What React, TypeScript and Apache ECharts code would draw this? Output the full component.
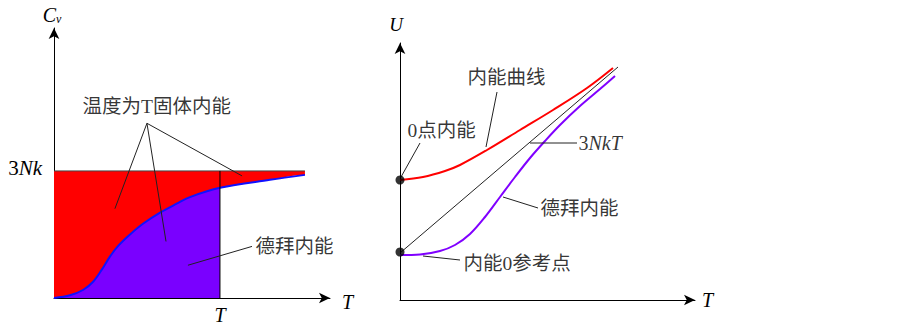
import React, { useEffect, useRef } from "react";
import * as echarts from "echarts";

// ---------- Left panel: Cv (in units of 3Nk) vs T (in units of the marked T) ----------
const cvCurve: number[][] = [
  [0, 0], [0.096, 0.021], [0.177, 0.065], [0.237, 0.13], [0.287, 0.221], [0.337, 0.326],
  [0.388, 0.412], [0.458, 0.5], [0.538, 0.586], [0.639, 0.672], [0.739, 0.742], [0.819, 0.794],
  [1.0, 0.867], [1.301, 0.93], [1.512, 0.969],
];
const classicalLevel = 1; // 3Nk
const markT = 1; // T
const curveEnd = 1.512;
const leftTickLabels = { y: "3Nk", x: "T" };

// ---------- Right panel: U vs T ----------
const internalEnergy: number[][] = [
  [0, 1.2], [0.23, 1.23], [0.45, 1.29], [0.6, 1.35], [0.87, 1.5], [1.2, 1.7], [1.53, 1.9],
  [1.87, 2.12], [2.13, 2.32],
];
const classicalLine: number[][] = [[0, 0.47], [2.18, 2.33]];
const debyeEnergy: number[][] = [
  [0, 0.45], [0.2, 0.455], [0.4, 0.49], [0.55, 0.55], [0.7, 0.66], [0.85, 0.83], [1.0, 1.03],
  [1.15, 1.23], [1.3, 1.42], [1.45, 1.59], [1.6, 1.75], [1.8, 1.94], [2.0, 2.11], [2.15, 2.24],
];
const zeroPoints: number[][] = [[0, 1.2], [0, 0.48]];

// ---------- Annotations (data coordinates) ----------
const leftNotes = [
  { text: "温度为T固体内能", at: [0.169, 1.508] },
  { text: "德拜内能", at: [1.211, 0.406] },
];
const leftLeaders: number[][][] = [
  [[0.56, 1.375], [0.367, 0.703]],
  [[0.56, 1.375], [0.675, 0.445]],
  [[0.56, 1.375], [1.133, 0.961]],
  [[1.193, 0.406], [0.807, 0.258]],
];
const rightNotes = [
  { text: "内能曲线", at: [0.67, 2.23] },
  { text: "0点内能", at: [0.07, 1.7] },
  { text: "{n|3}{i|NkT}", at: [1.78, 1.57] },
  { text: "德拜内能", at: [1.4, 0.92] },
  { text: "内能0参考点", at: [0.63, 0.37] },
];
const rightLeaders: number[][][] = [
  [[0.97, 2.08], [0.86, 1.53]],
  [[0.2, 1.57], [0.01, 1.23]],
  [[1.3, 1.57], [1.77, 1.57]],
  [[1.03, 1.03], [1.38, 0.92]],
  [[0.23, 0.44], [0.6, 0.4]],
];

const SERIF = "'Liberation Serif', 'Noto Sans CJK SC', serif";
const FS = 19.5;
const SMOOTH = 0.35;

export default function App() {
  const ref = useRef<HTMLDivElement>(null);
  useEffect(() => {
    document.body.style.margin = "0";
    const chart = echarts.init(ref.current!, null, { renderer: "svg" });

    const axisLine = () => ({
      show: true,
      lineStyle: { color: "#000", width: 1 },
      symbol: ["none", "arrow"],
      symbolSize: [8, 11],
    });
    const richT = {
      n: { fontFamily: SERIF, fontSize: 20, color: "#000" },
      i: { fontFamily: SERIF, fontSize: 20, fontStyle: "italic", color: "#000" },
    };

    const leaderSeries = (lines: number[][][], idx: number) =>
      lines.map((seg) => ({
        type: "line",
        xAxisIndex: idx,
        yAxisIndex: idx,
        data: seg,
        symbol: "none",
        lineStyle: { color: "#222", width: 1 },
        z: 5,
      }));
    const noteSeries = (notes: { text: string; at: number[] }[], idx: number) => ({
      type: "scatter",
      xAxisIndex: idx,
      yAxisIndex: idx,
      symbolSize: 1,
      itemStyle: { color: "rgba(0,0,0,0)" },
      data: notes.map((n) => ({ name: n.text, value: n.at })),
      label: {
        show: true,
        position: "right",
        distance: 0,
        formatter: (p: any) => p.name,
        fontFamily: SERIF,
        fontSize: FS,
        color: "#000",
        rich: richT,
      },
      z: 6,
    });

    const beforeT = cvCurve.filter((p) => p[0] <= markT);
    const afterT = cvCurve.filter((p) => p[0] >= markT);
    const last = afterT[afterT.length - 1];
    // white cover below the curve beyond T, reaching a hair past the red edge
    const coverAfterT = [...afterT, [last[0] + 0.012, last[1]]];

    chart.setOption({
      animation: false,
      grid: [
        { left: 54, top: 28, width: 276, height: 272 },
        { left: 400, top: 43, width: 295, height: 257 },
      ],
      xAxis: [
        {
          type: "value", gridIndex: 0, min: 0, max: 1.663, interval: 1,
          axisLine: axisLine(), axisTick: { show: false }, splitLine: { show: false },
          axisLabel: {
            margin: 7, showMaxLabel: false,
            formatter: (v: number) => (Math.abs(v - markT) < 1e-9 ? "{i|" + leftTickLabels.x + "}" : ""),
            rich: richT,
          },
          name: "{i|T}", nameLocation: "end", nameGap: 12,
          nameTextStyle: { rich: richT, padding: [8, 0, 0, 0] },
        },
        {
          type: "value", gridIndex: 1, min: 0, max: 2.95,
          axisLine: axisLine(), axisTick: { show: false }, splitLine: { show: false },
          axisLabel: { show: false },
          name: "{i|T}", nameLocation: "end", nameGap: 7,
          nameTextStyle: { rich: richT },
        },
      ],
      yAxis: [
        {
          type: "value", gridIndex: 0, min: 0, max: 2.125, interval: 1,
          axisLine: axisLine(), axisTick: { show: false }, splitLine: { show: false },
          axisLabel: {
            margin: 12, showMaxLabel: false,
            formatter: (v: number) => (Math.abs(v - classicalLevel) < 1e-9 ? "{n|3}{i|Nk}" : ""),
            rich: {
              n: { fontFamily: SERIF, fontSize: 21, color: "#000", padding: [0, 0, 5, 0] },
              i: { fontFamily: SERIF, fontSize: 21, fontStyle: "italic", color: "#000", padding: [0, 0, 5, 0] },
            },
          },
          name: "{c|C}{s|v}", nameLocation: "end", nameGap: 3,
          nameTextStyle: {
            padding: [0, 4, 0, 0],
            rich: {
              c: { fontFamily: SERIF, fontSize: 20, fontStyle: "italic", color: "#000" },
              s: { fontFamily: SERIF, fontSize: 12, fontStyle: "italic", color: "#000", padding: [9, 0, 0, 0] },
            },
          },
        },
        {
          type: "value", gridIndex: 1, min: 0, max: 2.57,
          axisLine: axisLine(), axisTick: { show: false }, splitLine: { show: false },
          axisLabel: { show: false },
          name: "{i|U}", nameLocation: "end", nameGap: 9,
          nameTextStyle: { rich: { i: { fontFamily: SERIF, fontSize: 19, fontStyle: "italic", color: "#000" } }, padding: [0, 8, 0, 0] },
        },
      ],
      series: [
        // left panel: red region 0..curveEnd up to 3Nk
        {
          type: "line", xAxisIndex: 0, yAxisIndex: 0, symbol: "none",
          data: [[0, classicalLevel], [curveEnd, classicalLevel]],
          lineStyle: { color: "#444", width: 1 },
          areaStyle: { color: "#ff0000", opacity: 1 },
          z: 1,
        },
        // white below the curve beyond T
        {
          type: "line", xAxisIndex: 0, yAxisIndex: 0, symbol: "none", smooth: SMOOTH,
          data: coverAfterT, lineStyle: { width: 0 },
          areaStyle: { color: "#ffffff", opacity: 1 },
          z: 2,
        },
        // purple below the curve up to T
        {
          type: "line", xAxisIndex: 0, yAxisIndex: 0, symbol: "none", smooth: SMOOTH,
          data: beforeT, lineStyle: { width: 0 },
          areaStyle: { color: "#7a00ff", opacity: 1 },
          z: 2,
        },
        {
          type: "line", xAxisIndex: 0, yAxisIndex: 0, symbol: "none", smooth: SMOOTH,
          data: cvCurve, lineStyle: { color: "#1010ff", width: 2 },
          z: 3,
        },
        {
          type: "line", xAxisIndex: 0, yAxisIndex: 0, symbol: "none",
          data: [[markT, 0], [markT, classicalLevel]],
          lineStyle: { color: "#000", width: 1 },
          z: 4,
        },
        // right panel
        {
          type: "line", xAxisIndex: 1, yAxisIndex: 1, symbol: "none",
          data: classicalLine, lineStyle: { color: "#222", width: 1 }, z: 3,
        },
        {
          type: "line", xAxisIndex: 1, yAxisIndex: 1, symbol: "none", smooth: SMOOTH,
          data: internalEnergy, lineStyle: { color: "#ff0000", width: 2 }, z: 3,
        },
        {
          type: "line", xAxisIndex: 1, yAxisIndex: 1, symbol: "none", smooth: SMOOTH,
          data: debyeEnergy, lineStyle: { color: "#8000ff", width: 2 }, z: 3,
        },
        {
          type: "scatter", xAxisIndex: 1, yAxisIndex: 1, symbolSize: 9,
          data: zeroPoints, itemStyle: { color: "#000" }, z: 7,
        },
        ...leaderSeries(leftLeaders, 0),
        ...leaderSeries(rightLeaders, 1),
        noteSeries(leftNotes, 0),
        noteSeries(rightNotes, 1),
      ],
    });
    return () => chart.dispose();
  }, []);
  return (
    <div
      ref={ref}
      style={{ position: "absolute", left: 0, top: 0, width: 903, height: 325, background: "#fff" }}
    />
  );
}
